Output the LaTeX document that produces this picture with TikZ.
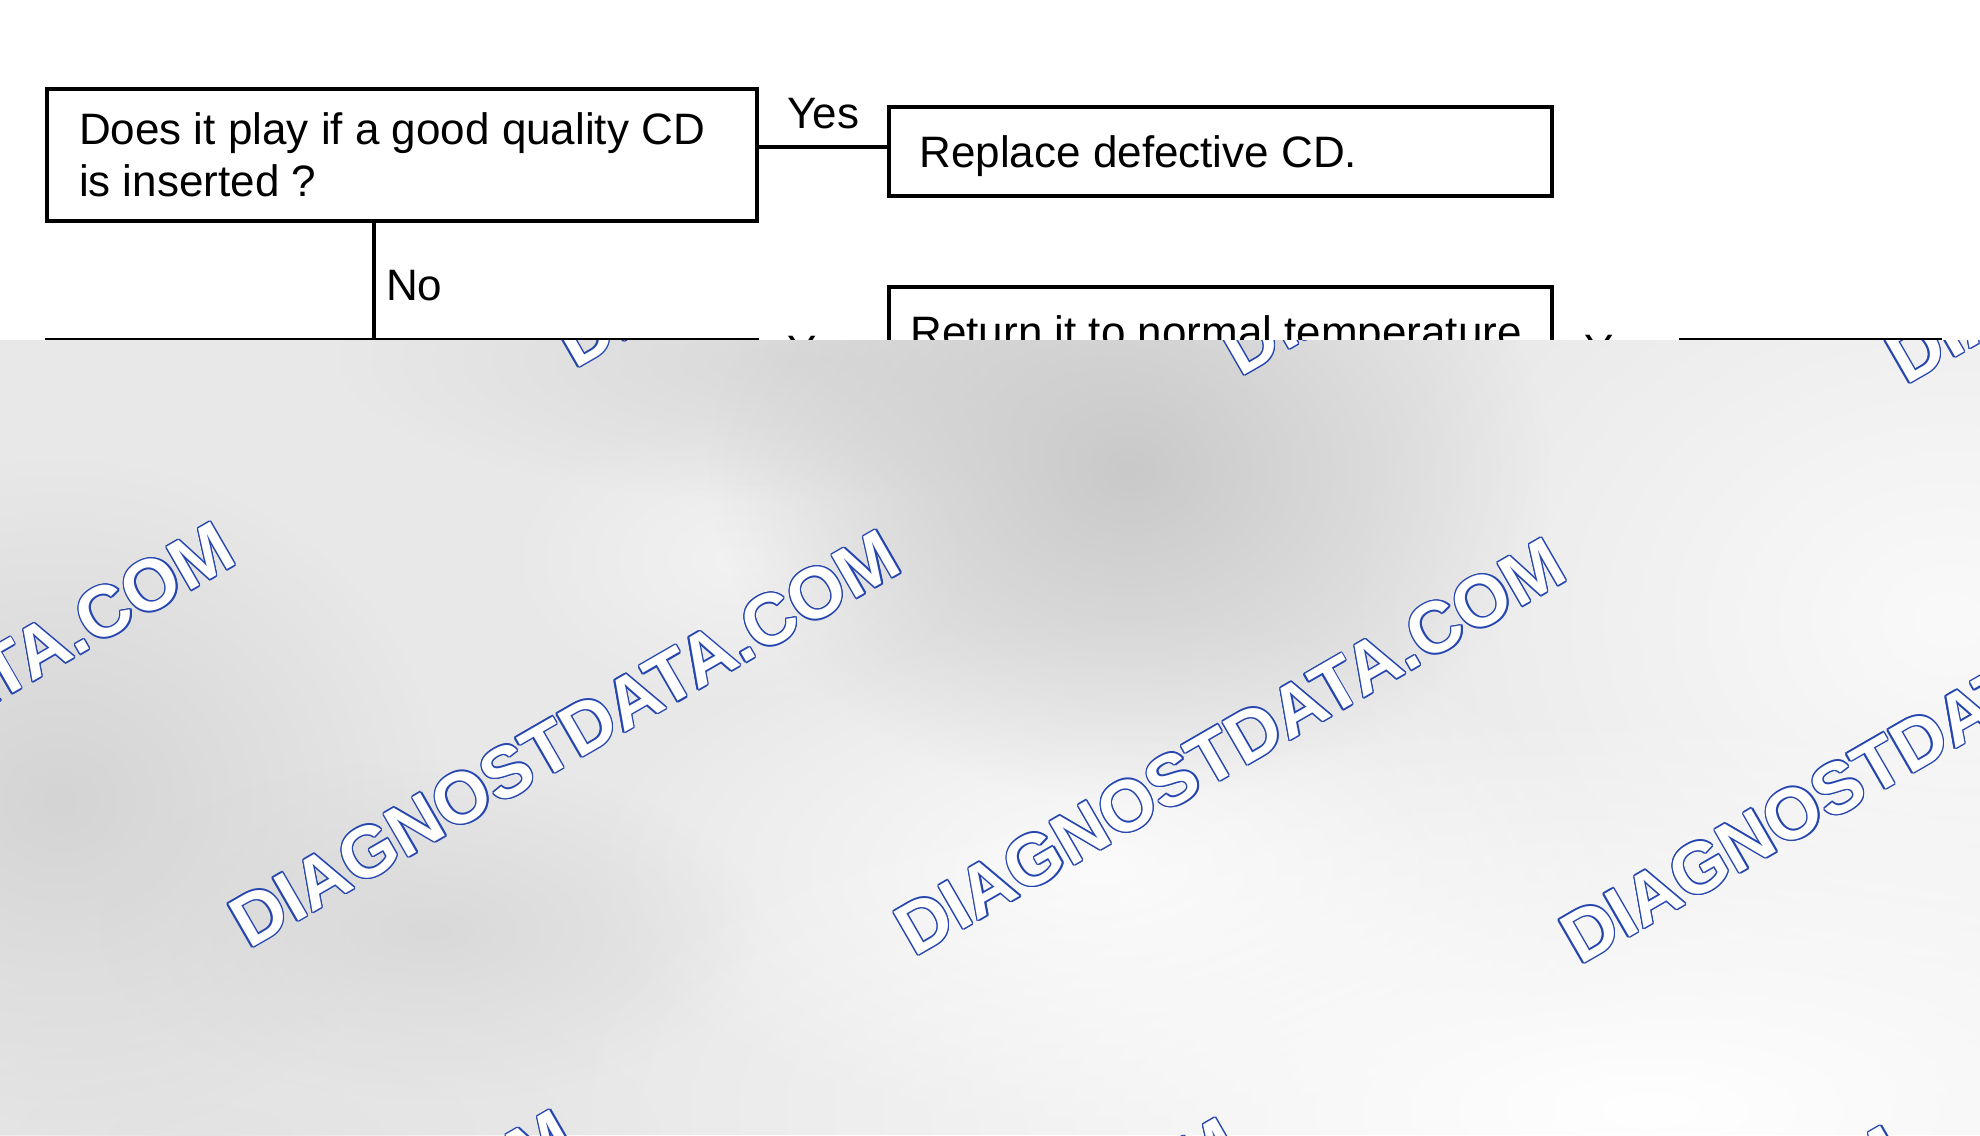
\documentclass[tikz,border=0pt]{standalone}
\usepackage{fontspec}
\setmainfont{Liberation Sans}
\usetikzlibrary{fadings}
\definecolor{wmblue}{RGB}{38,70,175}
\tikzfading[name=softblob, inner color=transparent!0, outer color=transparent!100]
\tikzset{
  box/.style={draw=black, line width=2pt, rectangle, inner ysep=0pt, align=left,
              font=\fontsize{22}{26}\selectfont,
              execute at begin node={\spaceskip0pt\xspaceskip0pt\hyphenpenalty10000\relax}},
  lbl/.style={inner sep=0pt, anchor=base west, font=\fontsize{22}{26}\selectfont},
  conn/.style={line width=2pt},
  wmline/.style={inner sep=0pt, anchor=base west, rotate=30, text=wmblue,
                 font=\fontsize{36}{36}\selectfont\bfseries},
  wmfill/.style={inner sep=0pt, anchor=base west, rotate=30, text=white,
                 font=\fontsize{36}{36}\selectfont\bfseries},
  blob/.style={path fading=softblob},
}
\begin{document}
\begin{tikzpicture}[x=0.5pt, y=-0.5pt]
\useasboundingbox (0,0) rectangle (1980,1135);
\fill[white] (0,0) rectangle (1980,1135);

% ---------- flowchart ----------
\node[box, anchor=north west, minimum width=355pt, minimum height=66pt,
      text width=323pt, inner xsep=16pt] (q1) at (45,86.5)
      {Does it play if a good quality CD\\is inserted ?};
\node[box, anchor=north west, minimum width=331.5pt, minimum height=44.5pt,
      text width=301pt, inner xsep=15.25pt, text height=16pt, text depth=0.5pt] (r1) at (887,105)
      {Replace defective CD.};
\node[box, anchor=north west, minimum width=331.5pt, minimum height=66pt,
      text width=310pt, inner xsep=10.75pt, text height=16pt, text depth=22pt] (r2) at (887,285)
      {Return it to normal temperature};
\node[box, anchor=north west, minimum width=355pt, minimum height=66pt] (q2) at (45,338) {};
\node[box, anchor=north west, minimum width=129.5pt, minimum height=66pt] (r3) at (1679,338) {};

\coordinate (yy) at (0,147);
\coordinate (nx) at (374,0);
\draw[conn] (q1.east |- yy) -- (r1.west |- yy);
\draw[conn] (q1.south -| nx) -- (q2.north -| nx);
\draw[conn] (q2.east |- r2.west) -- (r2.west);
\draw[conn] (r2.east) -- (r3.west |- r2.east);

\node[lbl] (yes1) at (787,128) {Yes};
\node[lbl] (no1) at (385.6,300) {No};
\node[lbl] (yes2) at (787,366.5) {Yes};
\node[lbl] (yes3) at (1584,365) {Yes};

% ---------- grey overlay with watermark ----------
\begin{scope}
\clip (0,340) rectangle (1980,1135);
\fill[black!9] (0,340) rectangle (1980,1135);
\fill[black!2, blob] (1950,620) ellipse (620 and 500);
\fill[black!5, blob] (740,560) ellipse (240 and 150);
\fill[black!2, blob] (1100,870) ellipse (520 and 260);
\fill[black!11, blob] (200,1135) ellipse (460 and 160);
\fill[black!15, blob] (800,360) ellipse (460 and 140);
\fill[black!17, blob] (60,800) ellipse (380 and 340);
\fill[black!15, blob] (430,930) ellipse (330 and 170);
\fill[black!21, blob] (1130,470) ellipse (420 and 330);
\fill[white, blob] (1650,1110) ellipse (1100 and 400);

\foreach \i in {-1,0,1,2,3}{
  \foreach \j in {-1,0,1}{
    \pgfmathsetmacro\px{248.7+665.5*\i+326*\j}
    \pgfmathsetmacro\py{949.5+8*\i-580*\j}
    \foreach \k in {0,30,...,330}
      \node[wmline, shift={(\k:0.7pt)}] at (\px,\py) {DIAGNOSTDATA.COM};
    \node[wmfill] (wm\i\j) at (\px,\py) {DIAGNOSTDATA.COM};
  }
}
\end{scope}
\end{tikzpicture}
\end{document}
